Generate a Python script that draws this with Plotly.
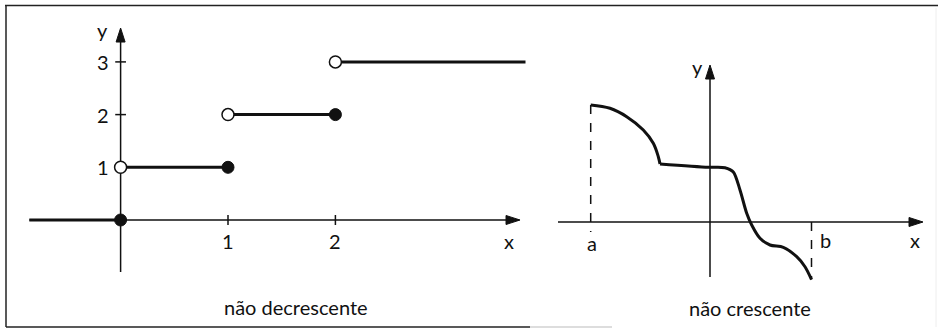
import plotly.graph_objects as go

# ---------------- data ----------------
# left panel: non-decreasing step function
zero_seg_x = [-0.85, 0]
zero_seg_y = [0, 0]
step_starts = [0, 1, 2]
step_ends = [1, 2, 3.77]
step_values = [1, 2, 3]
open_x = [0, 1, 2]
open_y = [1, 2, 3]
closed_x = [0, 1, 2]
closed_y = [0, 1, 2]
left_xticks = [1, 2]
left_yticks = [1, 2, 3]
left_caption = "não decrescente"

# right panel: non-increasing curve on [a, b]
arc_x = [-2.386, -2.0, -1.666, -1.334, -1.134, -1.034, -1.0]
arc_y = [2.34, 2.274, 2.106, 1.84, 1.574, 1.306, 1.16]
tail_x = [-1.0, -0.034, 0.3, 0.466, 0.6, 0.734, 0.834, 1.0, 1.2, 1.466, 1.734, 1.9, 2.03]
tail_y = [1.16, 1.094, 1.085, 1.0, 0.64, 0.174, -0.06, -0.326, -0.46, -0.506, -0.694, -0.894, -1.15]
a_val = -2.386
b_val = 2.03
right_caption = "não crescente"

# ---------------- geometry ----------------
W, H = 938, 330
L_DOM = [0, 540 / W]
R_DOM = [540 / W, 1]
L_XR = [-1.1229, 3.905]
L_YR = [-2.0873, 4.1746]
R_XR = [-3.4, 4.56]
R_YR = [-2.16, 4.44]
# pixels per data unit
LPX, LPY = 107.4, 52.7
RPX, RPY = 50.0, 50.0

FONT = "Lato, 'Noto Sans', sans-serif"
BLACK = "#111111"

fig = go.Figure()

# left function segments
fig.add_trace(go.Scatter(x=zero_seg_x, y=zero_seg_y, mode="lines",
                         line=dict(color=BLACK, width=3), xaxis="x", yaxis="y"))
for s, e, v in zip(step_starts, step_ends, step_values):
    fig.add_trace(go.Scatter(x=[s, e], y=[v, v], mode="lines",
                             line=dict(color=BLACK, width=3), xaxis="x", yaxis="y"))
fig.add_trace(go.Scatter(x=closed_x, y=closed_y, mode="markers",
                         marker=dict(size=12, color=BLACK, line=dict(color=BLACK, width=1)),
                         xaxis="x", yaxis="y"))
fig.add_trace(go.Scatter(x=open_x, y=open_y, mode="markers",
                         marker=dict(size=12, color="white", line=dict(color=BLACK, width=1.5)),
                         xaxis="x", yaxis="y"))

# right curve
fig.add_trace(go.Scatter(x=arc_x, y=arc_y, mode="lines", line_shape="spline",
                         line=dict(color=BLACK, width=3, smoothing=1.0), xaxis="x2", yaxis="y2"))
fig.add_trace(go.Scatter(x=tail_x, y=tail_y, mode="lines", line_shape="spline",
                         line=dict(color=BLACK, width=3, smoothing=0.8), xaxis="x2", yaxis="y2"))

shapes = []
annotations = []


def line(xref, yref, x0, y0, x1, y1, width=1.5, dash="solid", color=BLACK):
    shapes.append(dict(type="line", xref=xref, yref=yref, x0=x0, y0=y0, x1=x1, y1=y1,
                       line=dict(color=color, width=width, dash=dash), layer="below"))


def arrow(xref, yref, xt, yt, direction, ppx, ppy, L=14, Wd=9):
    if direction == "right":
        p = [(xt, yt), (xt - L / ppx, yt + Wd / 2 / ppy), (xt - L / ppx, yt - Wd / 2 / ppy)]
    else:
        p = [(xt, yt), (xt - Wd / 2 / ppx, yt - L / ppy), (xt + Wd / 2 / ppx, yt - L / ppy)]
    path = "M {} {} L {} {} L {} {} Z".format(p[0][0], p[0][1], p[1][0], p[1][1], p[2][0], p[2][1])
    shapes.append(dict(type="path", xref=xref, yref=yref, path=path,
                       fillcolor=BLACK, line=dict(color=BLACK, width=1)))


def text(xref, yref, x, y, s, size=20):
    annotations.append(dict(xref=xref, yref=yref, x=x, y=y, text=s, showarrow=False,
                            xanchor="center", yanchor="middle",
                            font=dict(family=FONT, size=size, color=BLACK)))


# left axes
line("x", "y", -0.848, 0, 3.70, 0)
line("x", "y", 0, -0.987, 0, 3.55)
arrow("x", "y", 3.719, 0, "right", LPX, LPY)
arrow("x", "y", 0, 3.643, "up", LPX, LPY)
for t in left_xticks:
    line("x", "y", t, -0.095, t, 0.095)
    text("x", "y", t, -0.40, str(t))
for t in left_yticks:
    line("x", "y", -0.05, t, 0.05, t)
    text("x", "y", -0.164, t, str(t))
text("x", "y", -0.17, 3.6, "y")
text("x", "y", 3.62, -0.40, "x")
text("x", "y", 1.636, -1.65, left_caption)

# right axes
line("x2", "y2", -3.04, 0, 4.2, 0)
line("x2", "y2", 0, -1.1, 0, 3.05)
arrow("x2", "y2", 4.26, 0, "right", RPX, RPY)
arrow("x2", "y2", 0, 3.14, "up", RPX, RPY)
line("x2", "y2", a_val, max(arc_y), a_val, -0.2, width=1.5, dash="dash")
line("x2", "y2", b_val, 0, b_val, min(tail_y), width=1.5, dash="dash")
text("x2", "y2", -2.36, -0.42, "a")
text("x2", "y2", 2.3, -0.36, "b")
text("x2", "y2", 4.1, -0.36, "x")
text("x2", "y2", -0.26, 3.1, "y")
text("x2", "y2", 0.8, -1.72, right_caption)

# frame
def pline(x0, y0, x1, y1, color="#222222", width=1.5):
    shapes.append(dict(type="line", xref="paper", yref="paper",
                       x0=x0 / W, y0=1 - y0 / H, x1=x1 / W, y1=1 - y1 / H,
                       line=dict(color=color, width=width)))

pline(5, 5.5, 938, 5.5)
pline(6, 5, 6, 327)
pline(6, 327, 530, 327)
pline(530, 327, 612, 327, color="#bbbbbb", width=1)
pline(936, 8, 936, 327, color="#eeeeee", width=1)

fig.update_layout(
    width=W, height=H, margin=dict(l=0, r=0, t=0, b=0),
    paper_bgcolor="white", plot_bgcolor="white", showlegend=False,
    xaxis=dict(domain=L_DOM, range=L_XR, visible=False, fixedrange=True),
    yaxis=dict(domain=[0, 1], range=L_YR, visible=False, fixedrange=True, anchor="x"),
    xaxis2=dict(domain=R_DOM, range=R_XR, visible=False, fixedrange=True, anchor="y2"),
    yaxis2=dict(domain=[0, 1], range=R_YR, visible=False, fixedrange=True, anchor="x2"),
    shapes=shapes, annotations=annotations,
)

fig.write_html("out.html", config={"displayModeBar": False},
               post_script="document.body.style.margin='0px';document.body.style.overflow='hidden';")
